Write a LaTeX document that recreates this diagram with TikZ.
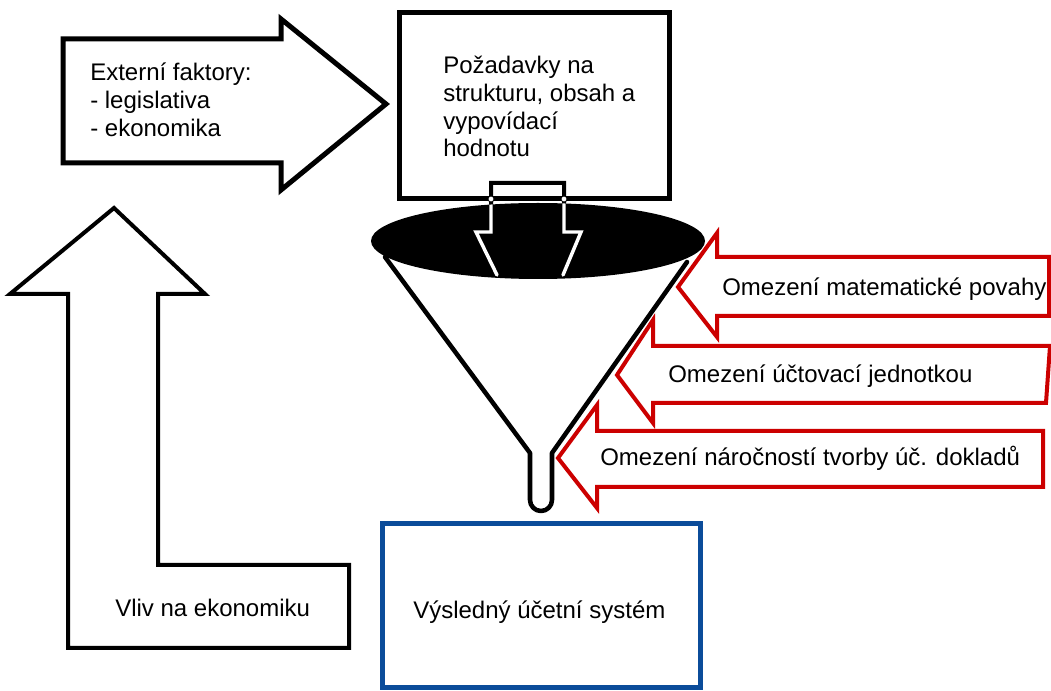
\documentclass[tikz,border=0pt]{standalone}
\usepackage{fontspec}
\setmainfont{Liberation Sans}
\definecolor{limitred}{HTML}{CC0000}
\definecolor{resultblue}{HTML}{0B4C9A}
\begin{document}
\begin{tikzpicture}[x=0.75pt,y=-0.75pt,
  shapeblack/.style={draw=black, line width=3.75pt, fill=white},
  shapethin/.style={draw=black, line width=3pt, fill=white},
  limitarrow/.style={draw=limitred, line width=3pt, fill=white},
  funnelline/.style={draw=black, line width=3.4pt, line join=round, line cap=round},
  lbl/.style={inner sep=0pt, anchor=base west, align=left, font=\fontsize{18}{21}\selectfont}]
\useasboundingbox[fill=white] (0,0) rectangle (1051,691);

% external factors: right-pointing block arrow
\path[shapeblack] (63,39) -- (281,39) -- (281,19) -- (386,104) -- (281,190)
  -- (281,163) -- (63,163) -- cycle;
% multi-line labels are placed by the baseline of their last line
\node[lbl, font=\fontsize{18}{21.3}\selectfont] (ext) at (90,137)
  {Externí faktory:\\- legislativa\\- ekonomika};

% requirements box
\draw[line width=3.75pt, fill=white] (399,13) rectangle (669,199);
\node[lbl, font=\fontsize{18}{20.8}\selectfont] (req) at (443,157)
  {Požadavky na\\strukturu, obsah a\\vypovídací\\hodnotu};

% feedback: L-shaped up arrow
\path[shapethin] (114,208) -- (205,294) -- (158,294) -- (158,565) -- (349,565)
  -- (349,648) -- (68,648) -- (68,294) -- (10,294) -- cycle;
\node[lbl] (vliv) at (115,617) {Vliv na ekonomiku};

% funnel cone and spout
\draw[funnelline, fill=white] (385,257) -- (530,453) -- (530,500)
  arc[start angle=180, end angle=0, radius=11] -- (552,453) -- (687,262);

% arrow entering the funnel
\def\inarrow{(497,275) -- (476,232) -- (491,232) -- (491,183) -- (564,183)
  -- (564,232) -- (581,232) -- (563,275)}
\draw[line width=3pt, line join=miter] \inarrow;
\fill[black] (538,241) ellipse [x radius=167, y radius=38];
\begin{scope}
  \clip (538,241) ellipse [x radius=167, y radius=38];
  \draw[white, line width=2.6pt, line cap=round] \inarrow;
\end{scope}
\filldraw[fill=white, draw=black, line width=0.6pt] (491,199) circle [radius=3];
\filldraw[fill=white, draw=black, line width=0.6pt] (564,199) circle [radius=3];

% limiting factors: left-pointing red arrows
\path[limitarrow] (678,287) -- (717,233) -- (717,257) -- (1049,257)
  -- (1049,316) -- (717,316) -- (717,337) -- cycle;
\node[lbl] (lim1) at (722,296) {Omezení matematické povahy};

\path[limitarrow] (617,375) -- (653,320) -- (653,346) -- (1050,346)
  -- (1046,403) -- (653,403) -- (653,423) -- cycle;
\node[lbl] (lim2) at (668,383) {Omezení účtovací jednotkou};

\path[limitarrow] (558,458) -- (597,405) -- (597,431) -- (1043,431)
  -- (1043,487) -- (597,487) -- (597,508) -- cycle;
\node[lbl] (lim3) at (600,466) {Omezení náročností tvorby úč. dokladů};

% resulting system box
\draw[draw=resultblue, line width=3.75pt, fill=white] (382,524) rectangle (700,688);
\node[lbl] (res) at (413,619) {Výsledný účetní systém};
\end{tikzpicture}
\end{document}
